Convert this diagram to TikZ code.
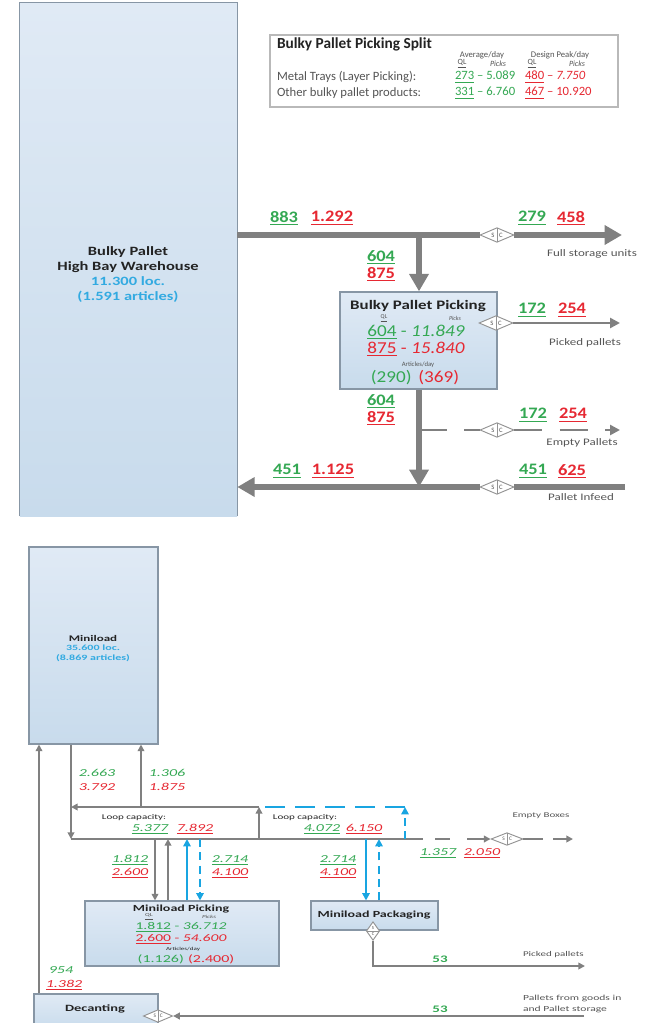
\documentclass[tikz,border=0pt]{standalone}
\usepackage{fontspec}
\setmainfont{Carlito}
\newfontfamily\mf[FakeStretch=1.15]{Carlito}
\newfontfamily\wf[FakeStretch=1.3]{Carlito}
\newfontfamily\xf[FakeStretch=1.5]{Carlito}
\usetikzlibrary{arrows.meta,shapes.geometric}
\definecolor{grn}{RGB}{52,168,83}
\definecolor{rd}{RGB}{230,40,50}
\definecolor{cyn}{RGB}{50,170,225}
\definecolor{lg}{RGB}{128,128,128}
\definecolor{blu}{RGB}{25,165,225}
\definecolor{bfillA}{RGB}{224,234,245}
\definecolor{bfillB}{RGB}{200,219,236}
\definecolor{bord}{RGB}{135,150,165}
\definecolor{txt}{RGB}{35,35,35}
\definecolor{lbl}{RGB}{85,85,85}
\newcommand\fsz[1]{\fontsize{#1}{#1}\selectfont}
\begin{document}
\begin{tikzpicture}[x=0.75pt,y=-0.75pt,
  box/.style={draw=bord, line width=0.8pt, top color=bfillA, bottom color=bfillB, inner sep=0},
  lab/.style={inner sep=0, outer sep=0},
  big/.style={line width=4.5pt, draw=lg},
  bigarr/.style={big, -{Triangle[length=13pt,width=14pt]}},
  med/.style={line width=2.2pt, draw=lg},
  medarr/.style={med, -{Triangle[length=7.5pt,width=7.5pt]}},
  thn/.style={line width=1.4pt, draw=lg},
  thnarr/.style={thn, -{Triangle[length=5pt,width=5pt]}},
  bl/.style={line width=1.8pt, draw=blu, -{Triangle[length=5.5pt,width=5.5pt]}},
  bld/.style={bl, dash pattern=on 6pt off 4pt},
  topnum/.style={lab, font=\mf\bfseries\fsz{12}},
  glab/.style={lab, font=\wf\fsz{7.5}, text=lbl},
  bnum/.style={lab, font=\xf\itshape\fsz{8}},
  slab/.style={lab, font=\xf\fsz{5.5}, text=lbl},
  scd/.style n args={4}{diamond, draw=lg!85, fill=white, line width=0.7pt, inner sep=0,
    minimum width=#1, minimum height=#2,
    path picture={
      \draw[lg!85, line width=0.5pt] (path picture bounding box.north) -- (path picture bounding box.south);
      \node[lab, font=\fsz{#4}, text=lbl] at ([xshift=-#3]path picture bounding box.center) {S};
      \node[lab, font=\fsz{#4}, text=lbl] at ([xshift=#3]path picture bounding box.center) {C};}},
  scdv/.style={diamond, draw=lg!85, fill=white, line width=0.7pt, inner sep=0,
    minimum width=10pt, minimum height=14pt,
    path picture={
      \draw[lg!85, line width=0.5pt] (path picture bounding box.west) -- (path picture bounding box.east);
      \node[lab, font=\fsz{3.5}, text=lbl] at ([yshift=2pt]path picture bounding box.center) {S};
      \node[lab, font=\fsz{3.5}, text=lbl] at ([yshift=-2pt]path picture bounding box.center) {C};}}
]
\useasboundingbox (0,0) rectangle (645,1023);

% ================= TOP PART =================
\node[draw=none, top color=bfillA, bottom color=bfillB, inner sep=0,
      minimum width=162.75pt, minimum height=384.75pt] (hbw) at (128.5,259.5) {};
\draw[draw=bord, line width=1pt] (hbw.south west) -- (hbw.north west) -- (hbw.north east) -- (hbw.south east);
\node[lab, align=center, font=\wf\bfseries\fontsize{9.5}{11.25}\selectfont, text=txt] (hbwt) at (128,275)
  {Bulky Pallet\\High Bay Warehouse\\\textcolor{cyn}{11.300 loc.}\\\textcolor{cyn}{(1.591 articles)}};

% legend
\node[draw=gray!55, line width=1.3pt, fill=white, minimum width=261pt, minimum height=54pt, inner sep=0] (leg) at (444,71) {};
\node[lab, anchor=west, font=\bfseries\fsz{11.5}, text=txt] (legt) at (277,44) {Bulky Pallet Picking Split};
\node[lab, font=\fsz{6.5}, text=lbl] (lga) at (482,55) {Average/day};
\node[lab, font=\fsz{6.5}, text=lbl] (lgb) at (560,55) {Design Peak/day};
\node[lab, font=\fsz{6}, text=lbl] (lgc) at (462,64) {\underline{QL}};
\node[lab, font=\itshape\fsz{6}, text=lbl] (lgd) at (498,64) {Picks};
\node[lab, font=\fsz{6}, text=lbl] (lge) at (532,64) {\underline{QL}};
\node[lab, font=\itshape\fsz{6}, text=lbl] (lgf) at (577,64) {Picks};
\node[lab, anchor=west, font=\fsz{9.5}, text=lbl] (r1a) at (277,77) {Metal Trays (Layer Picking):};
\node[lab, anchor=west, font=\fsz{9.5}, text=grn] (r1b) at (455,77) {\underline{273} – 5.089};
\node[lab, anchor=west, font=\fsz{9.5}, text=rd] (r1c) at (525,77) {\underline{480} – \textit{7.750}};
\node[lab, anchor=west, font=\fsz{9.5}, text=lbl] (r2a) at (277,93) {Other bulky pallet products:};
\node[lab, anchor=west, font=\fsz{9.5}, text=grn] (r2b) at (455,93) {\underline{331} – 6.760};
\node[lab, anchor=west, font=\fsz{9.5}, text=rd] (r2c) at (525,93) {\underline{467} – 10.920};

% bulky pallet picking box
\node[box, line width=1pt, minimum width=117.75pt, minimum height=72.75pt] (bpp) at (418.5,340.5) {};
\node[lab, font=\wf\bfseries\fsz{9.75}, text=txt] (bppt) at (418,306) {Bulky Pallet Picking};
\node[lab, font=\fsz{4.5}, text=lbl] (bppq) at (384,318) {\underline{QL}};
\node[lab, font=\itshape\fsz{4.5}, text=lbl] (bppp) at (455,318) {Picks};
\node[lab, font=\mf\fsz{12.5}, text=grn] (bpp1) at (416,332) {\underline{604} - \textit{11.849}};
\node[lab, font=\mf\fsz{12.5}, text=rd] (bpp2) at (416,349) {\underline{875} - \textit{15.840}};
\node[lab, font=\fsz{5}, text=lbl] (bppa) at (418,365) {Articles/day};
\node[lab, font=\mf\fsz{12.5}] (bpp3) at (415,378) {\textcolor{grn}{(290)}\hspace{0.4em}\textcolor{rd}{(369)}};

% flows top
\coordinate (j1) at (419,235);
\coordinate (fsu) at (622,235);
\coordinate (ppe) at (620,323);
\coordinate (j2) at (419,487);
\coordinate (j3) at (419,430);
\coordinate (epe) at (620,430);
\coordinate (pie) at (625,487);
\node[scd={25.5pt}{11pt}{3pt}{5}] (d1) at (497,235) {};
\node[scd={25.5pt}{11pt}{3pt}{5}] (d2) at (496,323) {};
\node[scd={25.5pt}{11pt}{3pt}{5}] (d3) at (497,430) {};
\node[scd={25.5pt}{11pt}{3pt}{5}] (d4) at (497,487) {};

\draw[big] (hbw.east |- j1) -- (d1.west);
\draw[bigarr] (d1.east) -- (fsu);
\draw[bigarr] (j1) -- (bpp.north -| j1);
\draw[medarr] (d2.east) -- (ppe);
\draw[bigarr] (bpp.south -| j1) -- (j2);
\draw[med, dash pattern=on 21pt off 13pt] (j3) -- (d3.west);
\draw[medarr, dash pattern=on 21pt off 13pt] (d3.east) -- (epe);
\draw[big] (pie) -- (d4.east);
\draw[bigarr] (d4.west) -- (hbw.east |- d4);

% top labels
\node[topnum, text=grn] (n1) at (284,218) {\underline{883}};
\node[topnum, text=rd] (n2) at (332,218) {\underline{1.292}};
\node[topnum, text=grn] (n3) at (532,218) {\underline{279}};
\node[topnum, text=rd] (n4) at (571,218) {\underline{458}};
\node[topnum, text=grn] (n5) at (381,257) {\underline{604}};
\node[topnum, text=rd] (n6) at (381,274) {\underline{875}};
\node[topnum, text=grn] (n7) at (532,310) {\underline{172}};
\node[topnum, text=rd] (n8) at (572,310) {\underline{254}};
\node[topnum, text=grn] (n9) at (381,401) {\underline{604}};
\node[topnum, text=rd] (n10) at (381,418) {\underline{875}};
\node[topnum, text=grn] (n11) at (533,415) {\underline{172}};
\node[topnum, text=rd] (n12) at (573,415) {\underline{254}};
\node[topnum, text=grn] (n13) at (287,471) {\underline{451}};
\node[topnum, text=rd] (n14) at (333,471) {\underline{1.125}};
\node[topnum, text=grn] (n15) at (533,471) {\underline{451}};
\node[topnum, text=rd] (n16) at (572,471) {\underline{625}};
\node[glab] (g1) at (592,254) {Full storage units};
\node[glab] (g2) at (585,343) {Picked pallets};
\node[glab] (g3) at (582,443) {Empty Pallets};
\node[glab] (g4) at (581,497) {Pallet Infeed};

% ================= BOTTOM PART =================
\node[box, minimum width=96.75pt, minimum height=147.75pt] (ml) at (93.5,645.5) {};
\node[lab, font=\xf\bfseries\fsz{6.5}, text=txt] (mlt) at (93,638) {Miniload};
\node[lab, font=\xf\bfseries\fsz{6}, text=cyn] (mlb) at (93,648) {35.600 loc.};
\node[lab, font=\xf\bfseries\fsz{6}, text=cyn] (mlc) at (93,658) {(8.869 articles)};

\node[box, minimum width=145.5pt, minimum height=48.75pt] (mpick) at (182,933.5) {};
\node[lab, font=\xf\bfseries\fsz{7}, text=txt] (mp1) at (181,909) {Miniload Picking};
\node[lab, font=\xf\fsz{3.5}, text=lbl] (mp2) at (149,917) {\underline{QL}};
\node[lab, font=\xf\itshape\fsz{3.5}, text=lbl] (mp3) at (209,917) {Picks};
\node[lab, font=\xf\fsz{7.8}, text=grn] (mp4) at (181,927) {\underline{1.812} - \textit{36.712}};
\node[lab, font=\xf\fsz{7.8}, text=rd] (mp5) at (181,939) {\underline{2.600} - \textit{54.600}};
\node[lab, font=\xf\fsz{3.5}, text=txt] (mp6) at (183,949) {Articles/day};
\node[lab, font=\xf\fsz{8}] (mp7) at (186,959) {\textcolor{grn}{(1.126)}\hspace{0.4em}\textcolor{rd}{(2.400)}};

\node[box, minimum width=95.25pt, minimum height=21.75pt] (mpack) at (374.5,915.5) {};
\node[lab, font=\xf\bfseries\fsz{7}, text=txt] (mpk) at (374,915) {Miniload Packaging};

\node[box, minimum width=93pt, minimum height=27pt] (dec) at (96,1012) {};
\node[lab, font=\xf\bfseries\fsz{7.2}, text=txt] (dect) at (95,1009) {Decanting};

% coordinates
\coordinate (xL) at (39,0);
\coordinate (xA) at (71,0);
\coordinate (xB) at (141,0);
\coordinate (lt) at (71,807);
\coordinate (lb) at (71,839);
\coordinate (tr) at (259,807);
\coordinate (br) at (259,839);
\coordinate (be) at (423,839);
\coordinate (ebe) at (573,839);
\coordinate (bc) at (405,807);
\coordinate (bb) at (405,839);
\coordinate (bl1) at (265,807);
\coordinate (p1) at (155,0);
\coordinate (p2) at (168,0);
\coordinate (p3) at (187,0);
\coordinate (p4) at (200,0);
\coordinate (q1) at (366,0);
\coordinate (q2) at (379,0);
\coordinate (pk) at (373,966);
\coordinate (pke) at (585,966);
\coordinate (pfg) at (584,1016);

\node[scd={24pt}{9.5pt}{2.6pt}{4}] (d5) at (507,839) {};
\node[scdv] (d6) at (373,931) {};
\node[scd={22pt}{9.5pt}{2.4pt}{4}] (d7) at (158,1016) {};

% gray loop
\draw[thnarr] (ml.south -| xA) -- (lb);
\draw[thnarr] (tr) -- (lt);
\draw[thnarr] (br) -- (tr);
\draw[thnarr] (xB |- tr) -- (ml.south -| xB);
\draw[thn] (lb) -- (be);
\draw[thnarr, dash pattern=on 0pt off 9pt on 11pt off 13pt on 20pt] (be) -- (d5.west);
\draw[thnarr, dash pattern=on 15pt off 7.5pt on 30pt] (d5.east) -- (ebe);
% blue loop
\draw[bl, dash pattern=on 6pt off 4pt] (bb) -- (bc);
\draw[line width=1.8pt, draw=blu, dash pattern=on 15pt off 7.5pt] (bc) -- (bl1);
% to picking
\draw[thnarr] (p1 |- lb) -- (mpick.north -| p1);
\draw[thnarr] (mpick.north -| p2) -- (p2 |- lb);
\draw[bl] (mpick.north -| p3) -- (p3 |- lb);
\draw[bld] (p4 |- lb) -- (mpick.north -| p4);
% to packaging
\draw[bl] (q1 |- lb) -- (mpack.north -| q1);
\draw[bld] (mpack.north -| q2) -- (q2 |- lb);
% picked pallets
\draw[thnarr] (d6.south) -- (pk) -- (pke);
% pallets from goods in
\draw[thnarr] (pfg) -- (d7.east);
% decanting to miniload
\draw[thnarr] (dec.north -| xL) -- (ml.south -| xL);

% bottom labels
\node[bnum, text=grn] (b1) at (97,773) {2.663};
\node[bnum, text=rd] (b2) at (97,787) {3.792};
\node[bnum, text=grn] (b3) at (167,773) {1.306};
\node[bnum, text=rd] (b4) at (167,787) {1.875};
\node[lab, font=\xf\fsz{5.5}, text=txt] (lc1) at (134,818) {Loop capacity:};
\node[bnum, text=grn] (b5) at (150,829) {\underline{5.377}};
\node[bnum, text=rd] (b6) at (195,829) {\underline{7.892}};
\node[lab, font=\xf\fsz{5.5}, text=txt] (lc2) at (305,818) {Loop capacity:};
\node[bnum, text=grn] (b7) at (322,829) {\underline{4.072}};
\node[bnum, text=rd] (b8) at (364,829) {\underline{6.150}};
\node[bnum, text=grn] (b9) at (130,860) {\underline{1.812}};
\node[bnum, text=rd] (b10) at (130,873) {\underline{2.600}};
\node[bnum, text=grn] (b11) at (230,860) {\underline{2.714}};
\node[bnum, text=rd] (b12) at (230,873) {\underline{4.100}};
\node[bnum, text=grn] (b13) at (338,860) {\underline{2.714}};
\node[bnum, text=rd] (b14) at (338,873) {\underline{4.100}};
\node[bnum, text=grn] (b15) at (438,853) {\underline{1.357}};
\node[bnum, text=rd] (b16) at (482,853) {\underline{2.050}};
\node[bnum, text=grn] (b17) at (61,970) {954};
\node[bnum, text=rd] (b18) at (64,985) {\underline{1.382}};
\node[lab, font=\xf\bfseries\fsz{7.5}, text=grn] (b19) at (440,959) {53};
\node[lab, font=\xf\bfseries\fsz{7.5}, text=grn] (b20) at (440,1009) {53};
\node[slab] (s1) at (541,816) {Empty Boxes};
\node[slab, anchor=west] (s2) at (523,955) {Picked pallets};
\node[slab, anchor=west, align=left, font=\xf\fontsize{5.8}{8.25}\selectfont] (s3) at (523,1003.5) {Pallets from goods in\\and Pallet storage};
\end{tikzpicture}
\end{document}
